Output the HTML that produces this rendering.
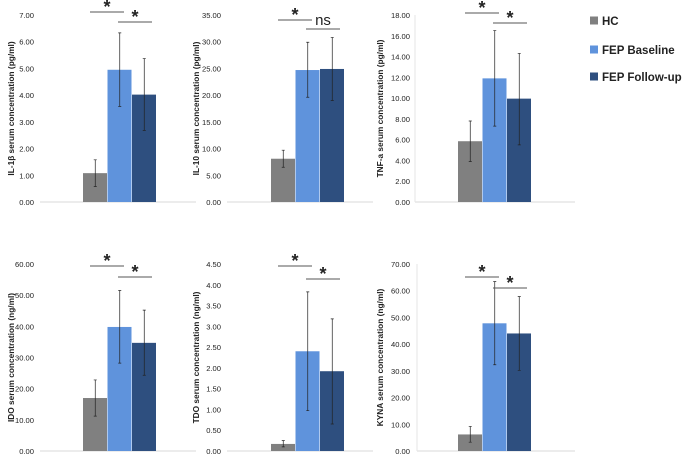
<!DOCTYPE html>
<html><head><meta charset="utf-8"><style>
body{margin:0;background:#fff}
svg{font-family:"Liberation Sans",sans-serif}
</style></head><body>
<svg id="c" width="683" height="457" xmlns="http://www.w3.org/2000/svg"></svg>
<script>
const groups=["HC","FEP Baseline","FEP Follow-up"];
const colors=["#808080","#5f93dc","#2e4f7f"];
const titles=["IL-1β serum concentration (pg/ml)","IL-10 serum concentration (pg/ml)","TNF-a serum concentration (pg/ml)","IDO serum concentration (ng/ml)","TDO serum concentration (ng/ml)","KYNA serum concentration (ng/ml)"];
const maxVals=[7,35,18,60,4.5,70];
const tickSteps=[1,5,2,10,0.5,10];
const means=[[1.08,4.95,4.02],[8.1,24.7,24.9],[5.85,11.9,9.95],[17,39.8,34.7],[0.17,2.4,1.92],[6.2,47.8,44]];
const lows=[[0.58,3.58,2.68],[6.5,19.6,19.0],[3.9,7.3,5.5],[11.2,28.2,24.3],[0.1,0.97,0.65],[3.3,32.3,30.2]];
const highs=[[1.58,6.33,5.37],[9.7,29.9,30.8],[7.8,16.5,14.3],[22.8,51.5,45.2],[0.25,3.83,3.18],[9.2,63.4,57.8]];
const sigLabels=[["*","*"],["*","ns"],["*","*"],["*","*"],["*","*"],["*","*"]];
const layout=[
 {zy:202,ty:15,lx:34,a0:40,a1:196,bx:83,tx:8,s:[12,22],va:false},
 {zy:202,ty:15,lx:221,a0:227,a1:373,bx:271,tx:193,s:[20,29],va:false},
 {zy:202,ty:15,lx:410,a0:415,a1:575,bx:458,tx:377,s:[13,23],va:true},
 {zy:451,ty:264,lx:34,a0:40,a1:196,bx:83,tx:8,s:[266,277],va:false},
 {zy:451,ty:264,lx:221,a0:227,a1:373,bx:271,tx:193,s:[266,279],va:false},
 {zy:451,ty:264,lx:410,a0:417,a1:575,bx:458,tx:377,s:[277,288],va:true}];
const NS="http://www.w3.org/2000/svg",svg=document.getElementById('c');
function mk(t,a,p){const e=document.createElementNS(NS,t);for(const k in a)e.setAttribute(k,a[k]);(p||svg).appendChild(e);return e;}
const bw=24.5;
titles.forEach((title,i)=>{
 const L=layout[i];
 const g=mk('g',{});
 
 
 const y=v=>L.zy-(v/maxVals[i])*(L.zy-L.ty);
 const ax=mk('line',{x1:L.a0,x2:L.a1,y1:L.zy,y2:L.zy,stroke:'#d9d9d9','stroke-width':1},g);
 
 
 if(L.va){const va=mk('line',{x1:L.a0,x2:L.a0,y1:L.ty,y2:L.zy,stroke:'#e6e6e6','stroke-width':1},g);
  
  }
 const n=Math.round(maxVals[i]/tickSteps[i]);
 for(let k=0;k<=n;k++){const v=k*tickSteps[i];
  const t=mk('text',{x:L.lx,y:y(v)+3,'text-anchor':'end','font-size':7.6,fill:'#222'},g);
  t.textContent=v.toFixed(2);
  
  }
 const yt=mk('text',{x:0,y:0,transform:`translate(${L.tx+6},${(L.zy+L.ty)/2}) rotate(-90)`,'text-anchor':'middle','font-size':8.3,'font-weight':'bold',fill:'#222'},g);
 yt.textContent=title;
 
 
 means[i].forEach((m,j)=>{
  const x=L.bx+j*bw;
  const r=mk('rect',{x:x,y:y(m),width:bw-0.5,height:L.zy-y(m),fill:colors[j]},g);
  
  
  const cx=x+bw/2,yl=y(lows[i][j]),yh=y(highs[i][j]);
  const eb=mk('path',{d:`M${cx},${yl}V${yh}M${cx-1.5},${yl}H${cx+1.5}M${cx-1.5},${yh}H${cx+1.5}`,stroke:'#222','stroke-width':0.7,fill:'none'},g);
  
  
 });
 for(let s=0;s<2;s++){
  const x0=L.bx+7+s*28,x1=x0+34,sy=L.s[s];
  const ln=mk('line',{x1:x0,x2:x1,y1:sy,y2:sy,stroke:'#555','stroke-width':1},g);
  
  
  const isNs=sigLabels[i][s]==='ns';
  const st=mk('text',{x:(x0+x1)/2,y:isNs?sy-4:sy+1,'text-anchor':'middle','font-size':isNs?15:18,'font-weight':isNs?'normal':'bold',fill:'#222'},g);
  st.textContent=sigLabels[i][s];
  
  
 }
});
const lg=mk('g',{});


groups.forEach((gname,j)=>{
 const yy=[21,50,77][j];
 const r=mk('rect',{x:590,y:yy-4.5,width:8,height:8,fill:colors[j]},lg);
 
 
 const t=mk('text',{x:602,y:yy+4,'font-size':11.5,'font-weight':'bold',fill:'#222'},lg);
 t.textContent=gname;
 
 
});
</script>
</body></html>
